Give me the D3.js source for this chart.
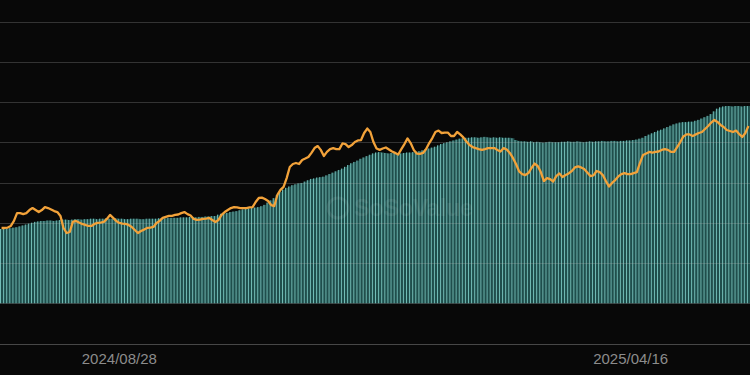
<!DOCTYPE html>
<html>
<head>
<meta charset="utf-8">
<script src="https://cdn.jsdelivr.net/npm/d3@7"></script>
<style>
  html, body { margin: 0; padding: 0; background: #080808; }
  svg { display: block; }
</style>
</head>
<body>
<div id="chart"></div>
<script>
// first trading day shown, bars are weekdays only
const START_DAY = '2024-07-05';
const BAR_COUNT = 242;

// cumulative net inflow, $B (one per trading day)
let cumInflow = [
  16.6,16.6,16.7,16.8,16.9,17.0,17.2,17.4,17.6,17.8,
  18.0,18.2,18.3,18.4,18.4,18.5,18.5,18.4,18.5,18.6,
  18.7,18.7,18.6,18.7,18.8,18.8,18.7,18.8,18.8,18.9,
  18.9,18.8,18.9,18.9,19.0,18.9,18.9,19.0,18.9,18.9,
  18.8,18.8,18.9,18.9,18.9,18.8,18.8,18.9,18.9,18.9,
  18.9,19.0,19.0,19.0,19.1,19.1,19.1,19.1,19.2,19.2,
  19.2,19.3,19.3,19.2,19.3,19.3,19.4,19.4,19.5,19.5,
  19.8,20.0,20.1,20.2,20.4,20.5,20.6,20.8,21.0,21.1,
  21.2,21.3,21.4,21.5,21.7,22.0,22.5,23.0,23.5,24.2,
  24.9,25.4,25.8,26.1,26.4,26.6,26.8,26.9,27.2,27.5,
  27.8,27.9,28.1,28.2,28.3,28.6,28.9,29.2,29.5,29.8,
  30.1,30.5,30.9,31.3,31.6,31.9,32.3,32.6,32.9,33.2,
  33.5,33.7,33.8,33.7,33.6,33.5,33.6,33.7,33.6,33.5,
  33.6,33.7,33.7,33.8,33.9,34.0,34.2,34.4,34.6,34.8,
  35.0,35.3,35.6,35.8,36.0,36.2,36.4,36.6,36.8,36.9,
  37.0,37.0,37.1,37.1,37.0,37.1,37.2,37.1,37.0,37.1,
  37.0,37.1,37.0,37.0,37.0,36.9,36.5,36.3,36.2,36.2,
  36.1,36.2,36.0,36.1,36.0,35.9,36.0,36.1,36.0,36.0,
  36.0,36.1,36.1,36.2,36.1,36.1,36.2,36.1,36.0,36.1,
  36.2,36.1,36.2,36.2,36.3,36.2,36.2,36.3,36.3,36.2,
  36.3,36.3,36.4,36.4,36.5,36.6,36.8,37.0,37.4,37.7,
  38.0,38.3,38.6,38.8,39.1,39.4,39.7,40.0,40.2,40.4,
  40.5,40.5,40.6,40.6,40.8,41.0,41.3,41.6,41.9,42.3,
  42.9,43.5,43.8,44.0,44.1,44.1,44.0,44.1,44.1,44.0,
  44.1,44.1
];

// BTC price, $K (one per trading day)
let priceK = [
  57.4,57.4,57.6,58.4,60.9,64.8,64.8,64.3,64.8,66.3,
  67.3,66.3,65.3,66.3,67.8,67.3,66.6,65.8,65.3,63.4,
  57.4,54.9,55.4,60.4,60.9,60.1,59.4,58.9,58.4,58.4,
  59.4,59.9,60.1,60.4,61.9,63.9,62.4,60.9,59.9,59.6,
  59.4,58.9,57.9,56.4,54.9,55.9,56.6,57.4,57.6,57.9,
  59.9,60.9,62.4,62.9,63.4,63.4,63.9,64.1,64.8,65.3,
  64.3,63.6,61.9,61.4,61.6,61.9,62.1,62.4,61.4,60.4,
  61.4,63.9,65.3,66.3,67.3,67.8,67.6,67.3,67.3,67.3,
  67.6,67.8,70.3,72.3,72.5,71.8,70.8,68.8,68.3,73.8,
  76.3,77.8,82.2,87.7,89.2,89.7,89.2,91.2,91.9,92.7,
  94.7,97.1,98.1,96.2,93.2,95.2,96.6,97.1,96.6,96.6,
  99.4,99.1,97.6,98.6,100.1,100.9,101.1,104.6,106.8,105.1,
  100.1,96.9,96.2,96.9,97.4,96.4,95.4,94.7,93.9,96.6,
  99.1,101.9,99.6,96.2,94.4,94.2,94.7,96.6,99.6,102.1,
  105.1,105.8,104.6,104.8,104.8,103.1,103.1,105.1,103.9,102.4,
  100.4,98.6,97.6,97.1,96.6,96.2,96.6,97.1,97.1,97.1,
  96.2,95.4,97.1,96.4,94.7,92.2,89.2,85.5,84.2,83.7,
  84.7,87.2,89.4,88.2,85.2,80.7,82.2,81.7,80.5,83.2,
  84.5,82.7,83.7,84.5,85.7,87.5,88.0,87.5,86.7,85.0,
  83.2,83.5,85.7,85.2,83.7,80.7,78.0,79.8,81.2,83.0,
  84.2,84.7,84.2,84.2,84.7,85.2,89.7,93.7,94.4,95.2,
  94.9,95.2,95.4,96.2,96.6,96.2,95.2,95.2,97.6,100.1,
  102.9,103.9,103.9,103.1,103.9,104.6,105.1,106.6,108.1,109.8,
  111.1,110.1,108.6,107.6,106.1,105.6,105.1,105.8,104.1,102.6,
  104.6,108.1
];

// grid values on the flow axis, $B
let flowTicks = [-9, 0, 9, 18, 27, 36, 45, 54, 63];
let tickLabels = ['2024/08/28', '2025/04/16'];

const W = 750, H = 375;

// build the weekday list
const parse = d3.timeParse('%Y-%m-%d');
const fmt = d3.timeFormat('%Y/%m/%d');
let days = [];
let d = parse(START_DAY);
while (days.length < BAR_COUNT) {
  if (d.getDay() !== 0 && d.getDay() !== 6) days.push(fmt(d));
  d = d3.timeDay.offset(d, 1);
}

const svg = d3.select('#chart').append('svg')
  .attr('width', W).attr('height', H)
  .style('background', '#080808');

const x = d3.scaleBand().domain(days).range([0, W]).padding(0);
const yFlow = d3.scaleLinear().domain([-9, 63]).range([343.5, 21.5]);
const yPrice = d3.scaleLinear().domain([0, 160]).range([343.5, 21.5]);

// bars
const bw = x.bandwidth();
let bars = svg.append('g');
bars.selectAll('rect')
  .data(cumInflow)
  .enter().append('rect')
  .attr('x', (v, i) => x(days[i]))
  .attr('y', v => yFlow(v))
  .attr('width', bw)
  .attr('height', v => yFlow(0) - yFlow(v))
  .attr('fill', '#1f4e4c');
bars.selectAll('line')
  .data(cumInflow)
  .enter().append('line')
  .attr('x1', (v, i) => x(days[i]) + 0.5)
  .attr('x2', (v, i) => x(days[i]) + 0.5)
  .attr('y1', v => yFlow(v))
  .attr('y2', yFlow(0))
  .attr('stroke', '#7cc9c3')
  .attr('stroke-width', 0.9);

// watermark
const wm = svg.append('g').attr('opacity', 0.07);
wm.append('circle').attr('cx', 338).attr('cy', 208).attr('r', 10)
  .attr('fill', 'none').attr('stroke', '#fff').attr('stroke-width', 3);
wm.append('text').attr('x', 354).attr('y', 216)
  .attr('fill', '#fff')
  .style('font-family', 'Liberation Sans, Arial, sans-serif')
  .style('font-size', '23px').style('font-weight', 'bold')
  .text('SoSoValue');

// grid on top, thin and see-through
svg.append('g')
  .selectAll('line')
  .data(flowTicks)
  .enter().append('line')
  .attr('x1', 0).attr('x2', W)
  .attr('y1', t => Math.round(yFlow(t)) + 0.5)
  .attr('y2', t => Math.round(yFlow(t)) + 0.5)
  .attr('stroke', t => t === -9 ? 'rgba(200,200,200,0.33)' : 'rgba(190,190,190,0.24)')
  .attr('stroke-width', 1);

// price line
const line = d3.line()
  .x((v, i) => x(days[i]) + bw / 2)
  .y(v => yPrice(v))
  .curve(d3.curveLinear);

svg.append('path')
  .datum(priceK)
  .attr('d', line)
  .attr('fill', 'none')
  .attr('stroke', '#f2a23a')
  .attr('stroke-width', 2.3)
  .attr('stroke-linejoin', 'round');

// x labels
svg.append('g')
  .selectAll('text')
  .data(tickLabels)
  .enter().append('text')
  .attr('x', t => x(t) + bw / 2)
  .attr('y', 364)
  .attr('text-anchor', 'middle')
  .attr('fill', '#8c8c8c')
  .style('font-family', 'Liberation Sans, Arial, sans-serif')
  .style('font-size', '15px')
  .text(t => t);
</script>
</body>
</html>
